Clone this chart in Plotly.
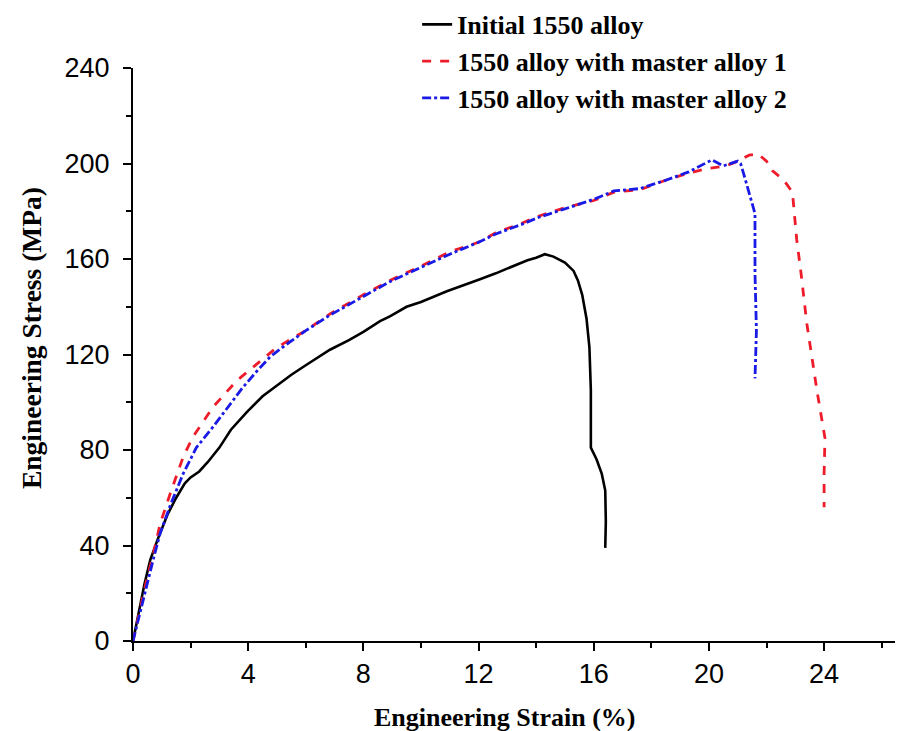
import plotly.graph_objects as go

# Initial 1550 alloy
x_initial = [0, 0.2, 0.4, 0.6, 0.87, 1.2, 1.5, 1.8, 2.0, 2.3, 2.6, 3.0, 3.4, 3.96, 4.5, 5.0, 5.5, 6.0,
             6.84, 7.5, 8.0, 8.58, 8.92, 9.5, 10.0, 10.9, 11.5, 12.05, 12.6, 13.2, 13.7, 14.0, 14.3,
             14.6, 15.0, 15.3, 15.45, 15.6, 15.75, 15.85, 15.9, 15.9, 16.1, 16.28, 16.4, 16.42, 16.4]
y_initial = [0, 12, 24, 34, 43, 53, 60, 66, 68.5, 71, 75, 81, 88.5, 96, 102.5, 107, 111.5, 115.5,
             122, 126, 129.5, 134, 136, 140, 142, 146.5, 149, 151.5, 154, 157, 159.5, 160.5, 162,
             161, 158.5, 155, 151, 145, 135, 123, 105, 81, 76, 70, 63, 50, 39]

# 1550 alloy with master alloy 1
x_ma1 = [0, 0.3, 0.5, 0.7, 0.94, 1.3, 1.74, 2.08, 2.78, 3.6, 4.2, 5.0, 6.0, 6.84, 8.0, 8.92, 10.0,
         11.0, 12.0, 12.6, 13.5, 14.1, 15.0, 16.0, 16.7, 17.6, 18.5, 19.3, 20.0, 20.6, 21.0, 21.4,
         21.7, 22.0, 22.2, 22.6, 22.9, 23.05, 23.2, 23.4, 23.75, 24.03, 24.0, 24.0]
y_ma1 = [0, 16, 27, 36, 49, 62, 77, 85.5, 98, 109, 115, 123, 130, 137, 145, 151, 157,
         163, 167, 171, 175, 178, 181.5, 184.5, 188, 189, 193, 196, 198, 199, 201, 203.5,
         204, 201, 197, 193, 188, 168, 154, 133, 105, 85, 70, 56]

# 1550 alloy with master alloy 2
x_ma2 = [0, 0.3, 0.5, 0.7, 0.94, 1.3, 1.74, 2.2, 2.8, 3.3, 3.8, 4.3, 4.76, 5.3, 6.0, 6.84, 8.0,
         8.92, 10.0, 11.0, 12.0, 12.6, 13.5, 14.1, 15.0, 16.0, 16.7, 17.6, 18.5, 19.3, 20.1, 20.5,
         21.0, 21.1, 21.2, 21.4, 21.6, 21.6, 21.65, 21.6]
y_ma2 = [0, 15, 25, 34, 45, 57, 70, 81, 90, 98, 106, 113, 119, 124, 130, 136.5, 144.5,
         150.5, 156.5, 162, 167, 170.5, 174.5, 177.5, 181, 185, 188.5, 189.5, 193, 196.5, 201.5, 199,
         201, 200, 196, 187.6, 179, 154, 130, 110]

names = ["Initial 1550 alloy", "1550 alloy with master alloy 1", "1550 alloy with master alloy 2"]
x_ticks = [0, 4, 8, 12, 16, 20, 24]
y_ticks = [0, 40, 80, 120, 160, 200, 240]
x_title = "Engineering Strain (%)"
y_title = "Engineering Stress (MPa)"

fig = go.Figure()
fig.add_trace(go.Scatter(x=x_initial, y=y_initial, mode="lines", name=names[0],
                         line=dict(color="#000000", width=2.6)))
fig.add_trace(go.Scatter(x=x_ma1, y=y_ma1, mode="lines", name=names[1],
                         line=dict(color="#ee1c2a", width=2.8, dash="dash")))
fig.add_trace(go.Scatter(x=x_ma2, y=y_ma2, mode="lines", name=names[2],
                         line=dict(color="#1a1ae6", width=2.8, dash="dashdot")))

tickfont = dict(family="Liberation Sans, Arial", size=27, color="black")
serif = "Liberation Serif, Times New Roman"

fig.update_layout(
    width=903, height=731,
    margin=dict(l=125, r=8, t=60, b=98, autoexpand=False),
    plot_bgcolor="white", paper_bgcolor="white",
    showlegend=True,
    legend=dict(x=0.369, y=1.117, xanchor="left", yanchor="top",
                font=dict(family=serif, size=26, color="black", weight="bold"),
                bgcolor="rgba(0,0,0,0)", tracegroupgap=0),
    xaxis=dict(range=[0, 26.74], tickvals=x_ticks, ticktext=[str(v) for v in x_ticks],
               showline=True, linecolor="black", linewidth=2,
               ticks="outside", ticklen=8, tickwidth=2, tickcolor="black",
               minor=dict(dtick=2, ticks="outside", ticklen=5, tickwidth=2, tickcolor="black"),
               showgrid=False, zeroline=False, tickfont=tickfont, automargin=False),
    yaxis=dict(range=[0, 240], tickvals=y_ticks, ticktext=[str(v) for v in y_ticks],
               showline=True, linecolor="black", linewidth=2,
               ticks="outside", ticklen=8, tickwidth=2, tickcolor="black", ticklabelstandoff=8,
               minor=dict(dtick=20, ticks="outside", ticklen=5, tickwidth=2, tickcolor="black"),
               showgrid=False, zeroline=False, tickfont=tickfont, automargin=False),
    annotations=[
        dict(text=x_title, xref="paper", yref="paper", x=0.483, y=-0.134,
             xanchor="center", yanchor="middle", showarrow=False,
             font=dict(family=serif, size=26, color="black", weight="bold")),
        dict(text=y_title, xref="paper", yref="paper", x=-0.131, y=0.529, textangle=-90,
             xanchor="center", yanchor="middle", showarrow=False,
             font=dict(family=serif, size=27.5, color="black", weight="bold")),
    ],
)

fig.write_html("out.html")
